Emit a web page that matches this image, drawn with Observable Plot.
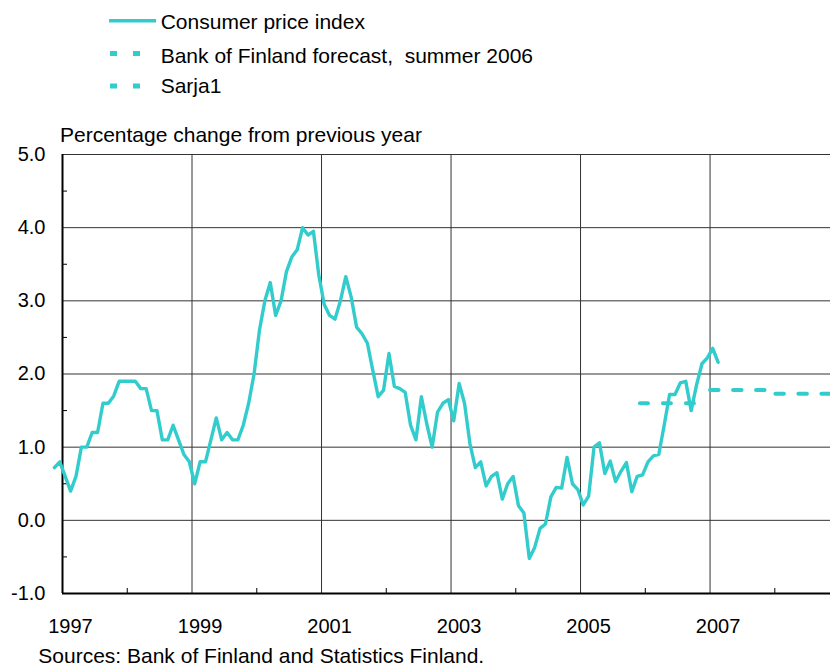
<!DOCTYPE html>
<html><head><meta charset="utf-8">
<script src="https://cdn.jsdelivr.net/npm/d3@7"></script>
<script src="https://cdn.jsdelivr.net/npm/@observablehq/plot@0.6"></script>
<style>
body{margin:0;background:#fff;}
#wrap{position:relative;width:830px;height:665px;overflow:hidden;}
#wrap svg{position:absolute;left:0;top:0;}
</style></head><body><div id="wrap"></div>
<script>
// ---- data ----
const seriesNames = ["Consumer price index", "Bank of Finland forecast,  summer 2006", "Sarja1"];
const yTitle = "Percentage change from previous year";
const sourceText = "Sources: Bank of Finland and Statistics Finland.";
const cpiColor = "#33CCCC";

// Monthly CPI, year-on-year % change, from November 1996 to February 2007
const cpiFirstYear = 1996, cpiFirstMonth = 11;
const cpiValues = [
  0.72, 0.8,
  0.6, 0.4, 0.6, 1.0, 1.0, 1.2, 1.2, 1.6, 1.6, 1.7, 1.9, 1.9,
  1.9, 1.9, 1.8, 1.8, 1.5, 1.5, 1.1, 1.1, 1.3, 1.1, 0.9, 0.8,
  0.5, 0.8, 0.8, 1.1, 1.4, 1.1, 1.2, 1.1, 1.1, 1.3, 1.6, 2.0,
  2.6, 3.0, 3.25, 2.8, 3.0, 3.4, 3.6, 3.7, 4.0, 3.9, 3.95, 3.35,
  2.95, 2.8, 2.75, 3.0, 3.33, 3.05, 2.64, 2.55, 2.42, 2.05, 1.69, 1.78,
  2.28, 1.83, 1.8, 1.75, 1.3, 1.1, 1.69, 1.32, 1.0, 1.48, 1.6, 1.65,
  1.36, 1.87, 1.6, 1.05, 0.72, 0.8, 0.47, 0.6, 0.65, 0.29, 0.5, 0.6,
  0.2, 0.1, -0.52, -0.37, -0.11, -0.05, 0.32, 0.45, 0.44, 0.86, 0.5, 0.42,
  0.21, 0.33, 1.0, 1.06, 0.64, 0.81, 0.53, 0.67, 0.79, 0.39, 0.6, 0.62,
  0.8, 0.88, 0.9, 1.3, 1.72, 1.72, 1.88, 1.9, 1.5, 1.85, 2.14, 2.22,
  2.35, 2.16
];
// Bank of Finland forecast, summer 2006
const forecastT = [2005.917, 2006.96];
const forecastV = [1.6, 1.6];
// Sarja1
const sarjaT = [2007.0, 2008.0, 2008.86];
const sarjaV = [1.78, 1.73, 1.73];

const xDomain = [1997, 2008.86];
const yDomain = [-1, 5];
const yTicks = [-1, 0, 1, 2, 3, 4, 5];
const yMinor = [-0.5, 0.5, 1.5, 2.5, 3.5, 4.5];
const xLabels = [1997, 1999, 2001, 2003, 2005, 2007];
const xMinor = [1998, 2000, 2002, 2004, 2006, 2008];

// ---- tables ----
const cpiRows = cpiValues.map((v, i) => ({t: cpiFirstYear + (cpiFirstMonth - 1 + i + 0.5) / 12, v}));
const forecastRows = forecastT.map((t, i) => ({t, v: forecastV[i]}));
const sarjaRows = sarjaT.map((t, i) => ({t, v: sarjaV[i]}));

const font = "'Liberation Sans', Arial, Helvetica, sans-serif";

const chart = Plot.plot({
  width: 830,
  height: 665,
  marginLeft: 62,
  marginRight: 0,
  marginTop: 154,
  marginBottom: 72,
  style: {fontFamily: font, fontSize: "20px", color: "#000", background: "transparent"},
  x: {domain: xDomain},
  y: {domain: yDomain},
  marks: [
    Plot.ruleY(yTicks, {stroke: "#333", strokeWidth: 1}),
    Plot.ruleX(xLabels, {stroke: "#333", strokeWidth: 1}),
    Plot.ruleX([xDomain[0]], {stroke: "#000", strokeWidth: 2}),
    Plot.ruleY([yDomain[0]], {stroke: "#000", strokeWidth: 2}),
    Plot.axisY(yTicks, {tickSize: 0, tickPadding: 17, tickFormat: d => d.toFixed(1), label: null, fontSize: 20}),
    Plot.axisY(yMinor, {tickSize: -5, tickFormat: () => "", label: null, stroke: "#000"}),
    Plot.axisX(xMinor, {tickSize: -5, tickFormat: () => "", label: null, stroke: "#000"}),
    Plot.axisX(xLabels, {tickSize: 0, tickPadding: 25, dx: 8, tickFormat: d => String(d), label: null, fontSize: 20}),
    Plot.line(forecastRows, {x: "t", y: "v", stroke: cpiColor, strokeWidth: 4, strokeDasharray: "8,15"}),
    Plot.line(sarjaRows, {x: "t", y: "v", stroke: cpiColor, strokeWidth: 4, strokeDasharray: "8.5,14.5", curve: "step-after"}),
    Plot.line(cpiRows, {x: "t", y: "v", stroke: cpiColor, strokeWidth: 3.4, strokeLinejoin: "round"})
  ]
});
const wrap = document.getElementById("wrap");
wrap.appendChild(chart);

// ---- legend, axis title and source (overlay) ----
const ns = "http://www.w3.org/2000/svg";
const ov = document.createElementNS(ns, "svg");
ov.setAttribute("width", 830); ov.setAttribute("height", 665);
ov.setAttribute("font-family", font);
wrap.appendChild(ov);
function el(name, attrs, text) {
  const e = document.createElementNS(ns, name);
  for (const k in attrs) e.setAttribute(k, attrs[k]);
  if (text != null) e.textContent = text;
  ov.appendChild(e);
  return e;
}
const legendRows = [
  {y: 20.7, base: 29.3, dash: null},
  {y: 53.5, base: 62.7, dash: "7,16"},
  {y: 86, base: 93.3, dash: "7,16"}
];
legendRows.forEach((r, i) => {
  el("line", {x1: r.dash ? 110 : 109, x2: r.dash ? 141 : 156, y1: r.y, y2: r.y, stroke: cpiColor, "stroke-width": r.dash ? 5 : 3.6,
    "stroke-dasharray": r.dash || "none"});
  el("text", {x: 160.7, y: r.base, "font-size": 21, style: "white-space:pre"}, seriesNames[i]);
});
el("text", {x: 60, y: 141.7, "font-size": 21}, yTitle);
el("text", {x: 38.3, y: 662.5, "font-size": 21}, sourceText);
</script>
</body></html>
